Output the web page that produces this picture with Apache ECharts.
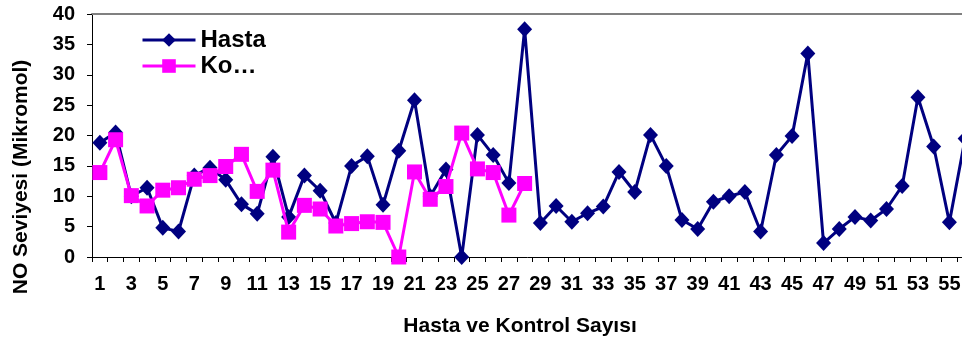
<!DOCTYPE html>
<html>
<head>
<meta charset="utf-8">
<script src="https://cdn.jsdelivr.net/npm/echarts@6/dist/echarts.min.js"></script>
<style>
  html, body { margin: 0; padding: 0; background: #fff; }
  #chart { width: 962px; height: 339px; }
</style>
</head>
<body>
<div id="chart"></div>
<script>
// Subject numbers along the x axis
const subjects = [];
for (let i = 1; i <= 56; i++) subjects.push(String(i));

// NO levels (micromol) for the patient group
const hasta = [
  18.8, 20.5, 10.0, 11.4, 4.8, 4.2, 13.4, 14.7, 12.7, 8.7,
  7.1, 16.5, 6.6, 13.4, 10.9, 5.6, 15.0, 16.6, 8.6, 17.5,
  25.8, 10.0, 14.4, 0.0, 20.1, 16.8, 12.2, 37.5, 5.6, 8.4,
  5.8, 7.2, 8.3, 14.0, 10.7, 20.1, 15.0, 6.1, 4.6, 9.1,
  10.0, 10.7, 4.2, 16.8, 19.9, 33.5, 2.3, 4.6, 6.6, 6.0,
  7.9, 11.7, 26.3, 18.2, 5.7, 19.5
];

// NO levels (micromol) for the control group
const kontrol = [
  13.9, 19.3, 10.1, 8.4, 11.0, 11.4, 12.8, 13.4, 14.9, 16.9,
  10.8, 14.3, 4.1, 8.5, 7.9, 5.1, 5.5, 5.8, 5.7, 0.0,
  14.0, 9.5, 11.6, 20.4, 14.5, 13.9, 6.9, 12.1
];

// Y axis range and step
const yMin = 0, yMax = 40, yStep = 5;

const FONT = '"Liberation Sans", Arial, sans-serif';

const chart = echarts.init(document.getElementById('chart'), null, { renderer: 'canvas' });

chart.setOption({
  animation: false,
  backgroundColor: '#ffffff',
  // plot area runs past the right edge of the page
  grid: {
    left: 92, top: 14, width: 881, bottom: 82,
    containLabel: false,
    outerBoundsMode: 'none'
  },
  legend: {
    orient: 'vertical',
    left: 141,
    top: 28,
    padding: 0,
    itemGap: 2,
    itemWidth: 53,
    itemHeight: 17,
    formatter: name => (name === 'Kontrol' ? 'Ko…' : name),
    lineStyle: { width: 3 },
    textStyle: { fontFamily: FONT, fontSize: 24, fontWeight: 'bold', color: '#000', padding: [0, 0, 0, 0] },
    data: ['Hasta', 'Kontrol']
  },
  xAxis: [
    {
      type: 'category',
      data: subjects,
      boundaryGap: true,
      axisLine: { lineStyle: { color: '#000', width: 1 } },
      axisTick: { show: true, interval: 0, length: 5, lineStyle: { color: '#000', width: 1 } },
      axisLabel: {
        interval: 1,
        margin: 17,
        fontFamily: FONT, fontSize: 20, fontWeight: 'bold', color: '#000'
      },
      splitLine: { show: false }
    },
    {
      // top edge of the plot frame
      type: 'category',
      data: subjects,
      position: 'top',
      axisLine: { lineStyle: { color: '#808080', width: 2 } },
      axisTick: { show: false },
      axisLabel: { show: false },
      splitLine: { show: false }
    }
  ],
  yAxis: {
    type: 'value',
    min: yMin,
    max: yMax,
    interval: yStep,
    axisLine: { show: true, lineStyle: { color: '#000', width: 1 } },
    axisTick: { show: true, length: 5, lineStyle: { color: '#000', width: 1 } },
    axisLabel: { margin: 17, fontFamily: FONT, fontSize: 20, fontWeight: 'bold', color: '#000' },
    splitLine: { show: false }
  },
  series: [
    {
      name: 'Hasta',
      type: 'line',
      data: hasta,
      symbol: 'diamond',
      symbolSize: [15, 16],
      showAllSymbol: true,
      lineStyle: { color: '#000080', width: 3 },
      itemStyle: { color: '#000080', borderWidth: 0 },
      z: 2
    },
    {
      name: 'Kontrol',
      type: 'line',
      data: kontrol,
      symbol: 'rect',
      symbolSize: 15,
      showAllSymbol: true,
      lineStyle: { color: '#FF00FF', width: 3 },
      itemStyle: { color: '#FF00FF', borderWidth: 0 },
      z: 3
    }
  ],
  graphic: [
    {
      type: 'text',
      x: 21,
      y: 177,
      rotation: Math.PI / 2,
      style: {
        text: 'NO Seviyesi (Mikromol)',
        font: 'bold 21px ' + FONT,
        fill: '#000',
        align: 'center',
        verticalAlign: 'middle'
      }
    },
    {
      type: 'text',
      x: 520,
      y: 326,
      style: {
        text: 'Hasta ve Kontrol Sayısı',
        font: 'bold 21px ' + FONT,
        fill: '#000',
        align: 'center',
        verticalAlign: 'middle'
      }
    }
  ]
});
</script>
</body>
</html>
